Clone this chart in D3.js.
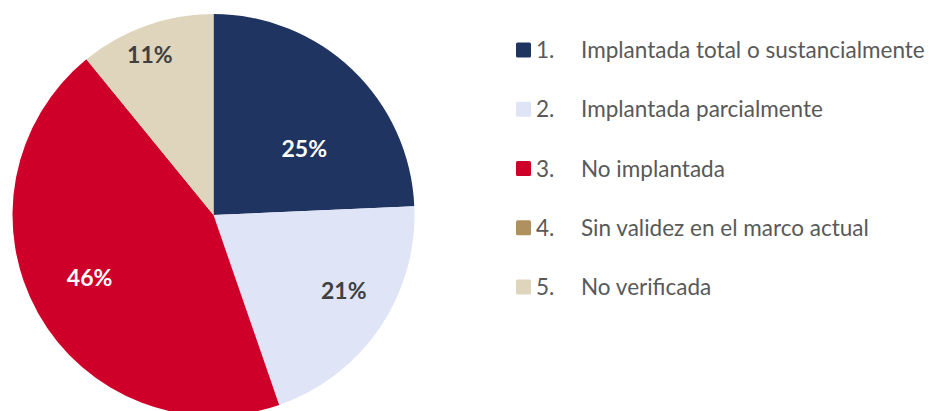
<!DOCTYPE html>
<html>
<head>
<meta charset="utf-8">
<script src="https://cdn.jsdelivr.net/npm/d3@7"></script>
<style>
  html, body { margin: 0; padding: 0; background: #fff; }
  svg { display: block; font-family: Lato, "Liberation Sans", sans-serif; }
</style>
</head>
<body>
<script>
// categories and shares
const categories = [
  "Implantada total o sustancialmente",
  "Implantada parcialmente",
  "No implantada",
  "Sin validez en el marco actual",
  "No verificada"
];
const values = [24.3, 20.4, 44.4, 0, 10.9];
const pctLabels = ["25%", "21%", "46%", "", "11%"];

const colors = ["#203462", "#DFE4F6", "#CE0029", "#AF915F", "#DFD4BC"];
const labelColors = ["#ffffff", "#404040", "#ffffff", "#404040", "#404040"];
// small nudges so labels sit where the original placed them
const labelR = [0.56, 0.75, 0.69, 0.7, 0.86];
const labelTurn = [10, -4, 2.5, 0, -2];

const width = 929, height = 411;
const cx = 213.5, cy = 215, radius = 201;

const svg = d3.select("body").append("svg")
    .attr("width", width)
    .attr("height", height);

const color = d3.scaleOrdinal().domain(categories).range(colors);

const pie = d3.pie().sort(null).value(d => d.value);
const arcs = pie(categories.map((c, i) => ({ name: c, value: values[i], i })));

const arc = d3.arc().innerRadius(0).outerRadius(radius);

const g = svg.append("g").attr("transform", `translate(${cx},${cy})`);

g.selectAll("path")
  .data(arcs)
  .join("path")
  .attr("d", arc)
  .attr("fill", d => color(d.data.name));

// percentage labels
g.selectAll("text")
  .data(arcs.filter(d => d.value > 0))
  .join("text")
  .attr("transform", d => {
    const i = d.data.i;
    const a = (d.startAngle + d.endAngle) / 2 + labelTurn[i] * Math.PI / 180;
    const r = radius * labelR[i];
    return `translate(${Math.sin(a) * r},${-Math.cos(a) * r})`;
  })
  .attr("text-anchor", "middle")
  .attr("dy", "0.36em")
  .attr("font-size", 23)
  .attr("font-weight", 700)
  .attr("fill", d => labelColors[d.data.i])
  .text(d => pctLabels[d.data.i]);

// legend
const y = d3.scalePoint().domain(categories).range([50, 287]);

const legend = svg.append("g");
const rows = legend.selectAll("g")
  .data(categories)
  .join("g")
  .attr("transform", d => `translate(0,${y(d)})`);

rows.append("rect")
  .attr("x", 516)
  .attr("y", -7.5)
  .attr("width", 15)
  .attr("height", 15)
  .attr("rx", 1.5)
  .attr("fill", d => color(d));

rows.append("text")
  .attr("x", 536)
  .attr("dy", "0.36em")
  .attr("font-size", 19)
  .attr("fill", "#595959")
  .text((d, i) => (i + 1) + ".");

const names = rows.append("text")
  .attr("x", 581)
  .attr("dy", "0.36em")
  .attr("font-size", 19)
  .attr("fill", "#595959")
  .text(d => d);

// fit the longest legend entry to the width it takes in the original
const longest = d3.max(names.nodes(), n => n.getComputedTextLength());
const fs = 19 * 344 / longest;
rows.selectAll("text").attr("font-size", fs);
</script>
</body>
</html>
